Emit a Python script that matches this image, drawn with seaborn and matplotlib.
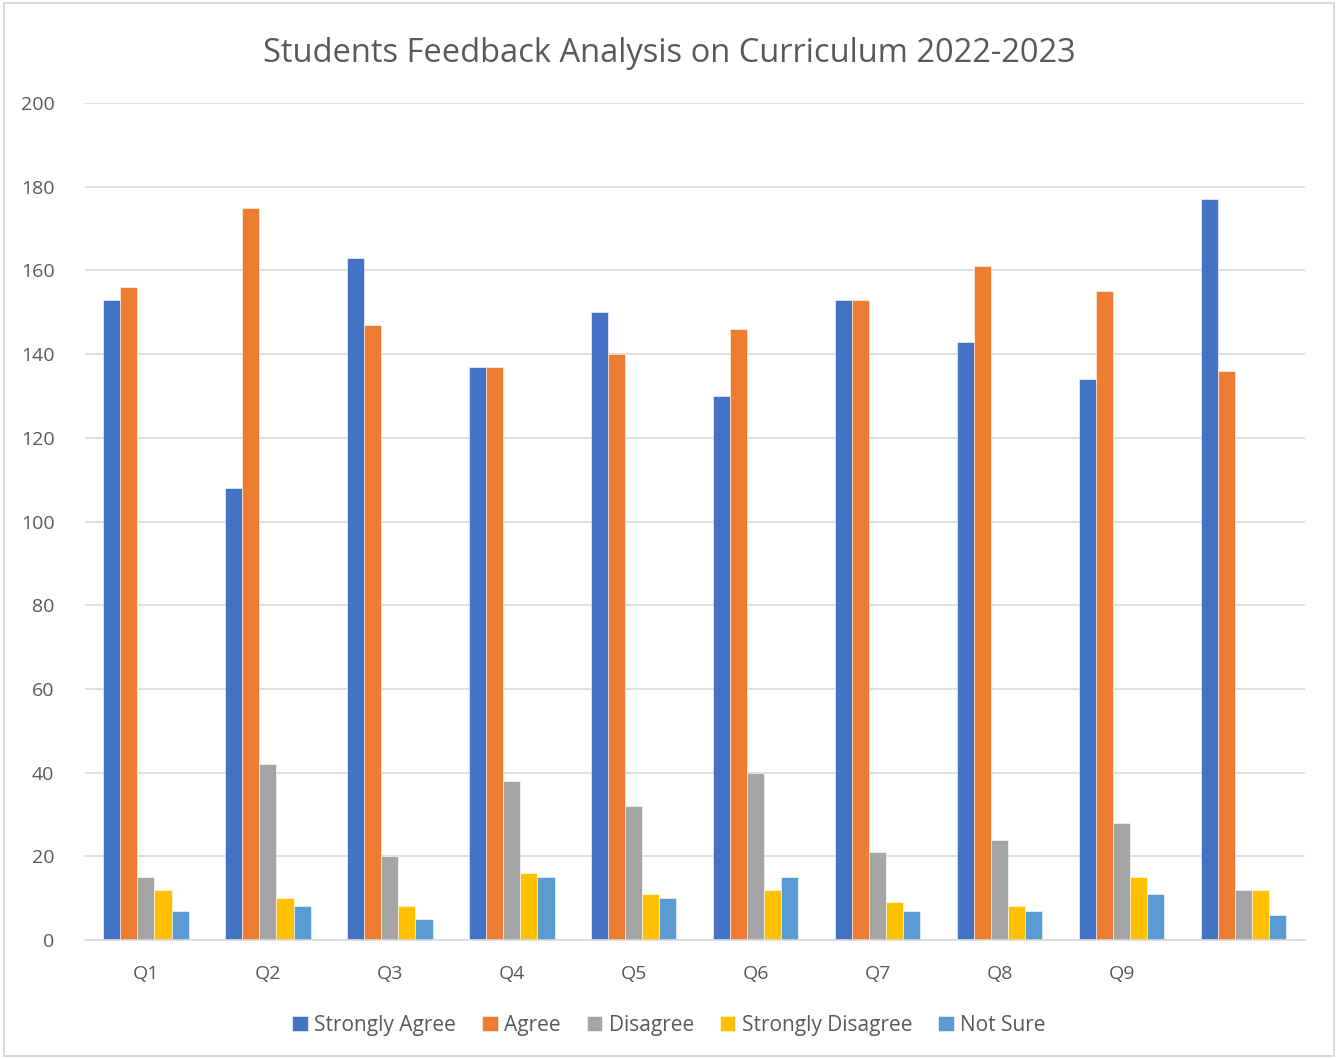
import matplotlib
matplotlib.use("Agg")
import matplotlib.pyplot as plt
import seaborn as sns
import pandas as pd
from matplotlib.patches import Rectangle

categories = ["Q1", "Q2", "Q3", "Q4", "Q5", "Q6", "Q7", "Q8", "Q9", "Q10"]
tick_labels = ["Q1", "Q2", "Q3", "Q4", "Q5", "Q6", "Q7", "Q8", "Q9", ""]
strongly_agree = [153, 108, 163, 137, 150, 130, 153, 143, 134, 177]
agree = [156, 175, 147, 137, 140, 146, 153, 161, 155, 136]
disagree = [15, 42, 20, 38, 32, 40, 21, 24, 28, 12]
strongly_disagree = [12, 10, 8, 16, 11, 12, 9, 8, 15, 12]
not_sure = [7, 8, 5, 15, 10, 15, 7, 7, 11, 6]
series_names = ["Strongly Agree", "Agree", "Disagree", "Strongly Disagree", "Not Sure"]
colors = ["#4472C4", "#ED7D31", "#A5A5A5", "#FFC000", "#5B9BD5"]

rows = []
for name, vals in zip(series_names, [strongly_agree, agree, disagree, strongly_disagree, not_sure]):
    for c, v in zip(categories, vals):
        rows.append({"Question": c, "Response": name, "Count": v})
df = pd.DataFrame(rows)

sns.set_theme(style="white")
plt.rcParams["font.family"] = ["Open Sans", "DejaVu Sans"]
text_color = "#595959"

fig = plt.figure(figsize=(13.38, 10.59), dpi=100)
ax = fig.add_axes([0.0635, 0.1124, 0.9115, 0.7903])
sns.barplot(data=df, x="Question", y="Count", hue="Response", order=categories,
            hue_order=series_names, palette=colors, width=0.7, gap=0, saturation=1,
            edgecolor="white", linewidth=0.4, ax=ax, legend=True)

ax.set_ylim(0, 200)
ax.set_yticks(range(0, 201, 20))
ax.set_xlim(-0.5, len(categories) - 0.5)
ax.set_xticks(range(len(categories)))
ax.set_xticklabels(tick_labels)
ax.tick_params(axis="both", labelsize=14, colors=text_color, length=0)
ax.tick_params(axis="x", pad=18)
ax.tick_params(axis="y", pad=22)
ax.yaxis.grid(True, color="#D9D9D9", linewidth=1.2)
ax.set_axisbelow(True)
for s in ["top", "right", "left"]:
    ax.spines[s].set_visible(False)
ax.spines["bottom"].set_color("#D9D9D9")
ax.spines["bottom"].set_linewidth(1.2)
ax.set_xlabel("")
ax.set_ylabel("")

handles, labels = ax.get_legend_handles_labels()
ax.legend_.remove()
fig.legend(handles, labels, loc="center", bbox_to_anchor=(0.5, 0.032), ncol=5,
           frameon=False, fontsize=15, handlelength=0.75, handleheight=0.75,
           handletextpad=0.3, columnspacing=1.25, labelcolor=text_color)

fig.suptitle("Students Feedback Analysis on Curriculum 2022-2023", x=0.5, y=0.965,
             fontsize=23.5, color=text_color)

fig.patches.append(Rectangle((0.003, 0.003), 0.994, 0.994, transform=fig.transFigure,
                             fill=False, edgecolor="#D9D9D9", linewidth=1.5))

fig.savefig("out.png", dpi=100, facecolor="white")
